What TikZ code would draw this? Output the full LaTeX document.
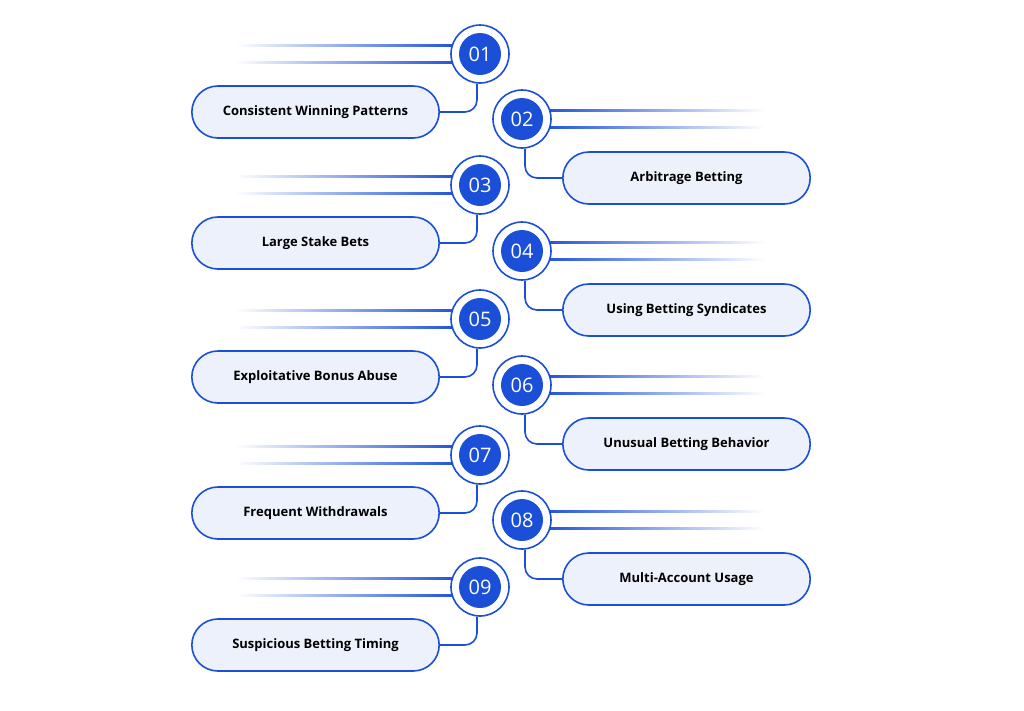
\documentclass[tikz,border=0pt]{standalone}
\usepackage{fontspec}
\setmainfont{Open Sans}
\definecolor{mainblue}{HTML}{1B4FD8}
\definecolor{pillfill}{HTML}{EDF1FC}
\tikzset{
  ring/.style={circle,draw=mainblue,line width=1.6pt,fill=white,minimum size=58pt,inner sep=0pt},
  badge/.style={circle,fill=mainblue,text=white,minimum size=42pt,inner sep=0pt,font=\fontsize{20}{20}\selectfont},
  pill/.style={rounded rectangle,draw=mainblue,line width=1.6pt,fill=pillfill,minimum width=254pt,minimum height=52pt,font=\fontsize{13}{15}\selectfont\bfseries},
  link/.style={draw=mainblue,line width=1.6pt,rounded corners=12pt}
}
\usetikzlibrary{shapes.misc}
\begin{document}
\begin{tikzpicture}[x=1pt,y=-1pt]
  \useasboundingbox (0,0) rectangle (1024,710);

  % left column
  \foreach \n/\cy/\txt in {01/54/Consistent Winning Patterns,03/185/Large Stake Bets,
      05/319/Exploitative Bonus Abuse,07/455/Frequent Withdrawals,09/587/Suspicious Betting Timing}{
    \shade[left color=white,right color=mainblue] (235,\cy-10) rectangle (460,\cy-8);
    \shade[left color=white,right color=mainblue] (235,\cy+7) rectangle (460,\cy+9);
    \node[ring] (r\n) at (480,\cy) {};
    \node[badge] (b\n) at (r\n) {\n};
    \node[pill] (p\n) at (315.5,\cy+58) {\txt};
    \draw[link] (r\n.south) ++(-3,0) |- (p\n.east);
  }

  % right column
  \foreach \n/\cy/\txt in {02/119/Arbitrage Betting,04/251/Using Betting Syndicates,
      06/385/Unusual Betting Behavior,08/520/Multi-Account Usage}{
    \shade[left color=mainblue,right color=white] (540,\cy-10) rectangle (765,\cy-8);
    \shade[left color=mainblue,right color=white] (540,\cy+7) rectangle (765,\cy+9);
    \node[ring] (r\n) at (522,\cy) {};
    \node[badge] (b\n) at (r\n) {\n};
    \node[pill] (p\n) at (686.5,\cy+59) {\txt};
    \draw[link] (r\n.south) ++(3,0) |- (p\n.west);
  }
\end{tikzpicture}
\end{document}
